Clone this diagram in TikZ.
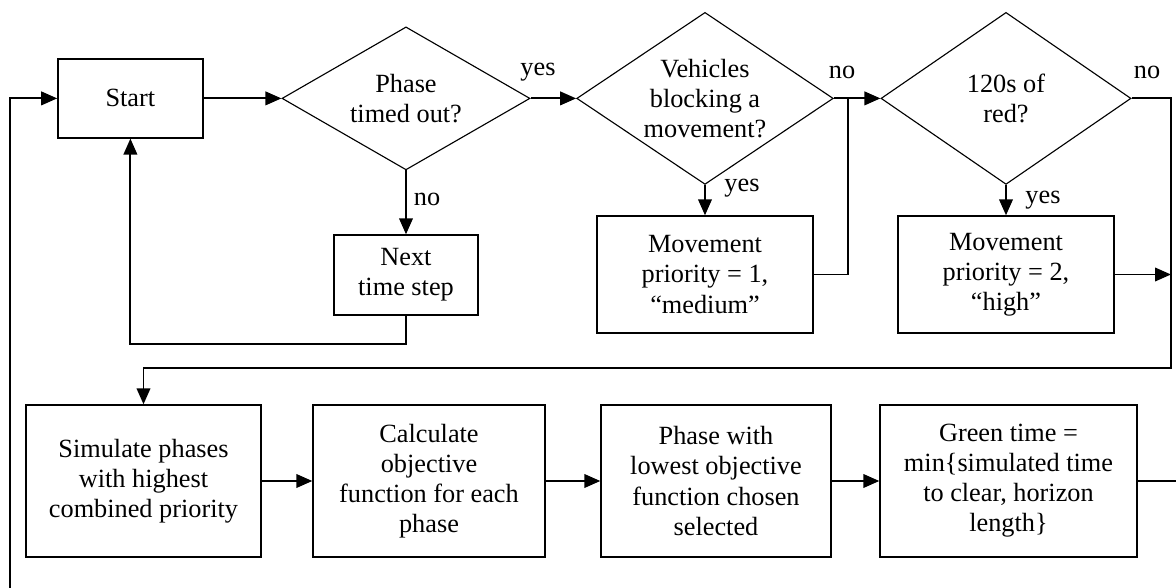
\documentclass[tikz,border=0pt]{standalone}
\usepackage{fontspec}
\setmainfont{Liberation Serif}
\usetikzlibrary{shapes.geometric,arrows.meta}

\begin{document}
\begin{tikzpicture}[>={Triangle[length=0.4cm,width=0.34cm]},
    every node/.style={font=\fontsize{18.7}{21.4}\selectfont},
    box/.style={draw, line width=1pt, align=center, inner sep=0pt},
    decision/.style={draw, diamond, aspect=1.7, line width=0.8pt, align=center,
        inner sep=0pt, minimum width=6.25cm, minimum height=4.3cm},
    flow/.style={line width=1.4pt}]
    \useasboundingbox (0,0) rectangle (29.4,-14.7);

    % top row
    \node[box, minimum width=3.625cm, minimum height=1.975cm] (start) at (3.26,-2.46) {Start};
    \node[decision, minimum width=6.2cm, minimum height=3.575cm] (timeout) at (10.15,-2.46) {Phase\\timed out?};
    \node[decision] (blocking) at (17.625,-2.46) {Vehicles\\blocking a\\movement?};
    \node[decision] (redtime) at (25.15,-2.46) {120s of\\red?};

    \node[box, minimum width=3.6cm, minimum height=2cm] (nextstep) at (10.15,-6.875) {Next\\time step};
    \node[box, minimum width=5.4cm, minimum height=2.925cm] (medium) at (17.625,-6.8625) {Movement\\priority = 1,\\``medium''};
    \node[box, minimum width=5.4cm, minimum height=2.925cm] (high) at (25.15,-6.8625) {Movement\\priority = 2,\\``high''};

    % bottom row
    \node[box, minimum width=5.875cm, minimum height=3.8cm] (simulate) at (3.5875,-12.025) {Simulate phases\\with highest\\combined priority};
    \node[box, minimum width=5.8cm, minimum height=3.8cm] (objective) at (10.725,-12.025) {Calculate\\objective\\function for each\\phase};
    \node[box, minimum width=5.75cm, minimum height=3.8cm] (lowest) at (17.9,-12.025) {Phase with\\lowest objective\\function chosen\\selected};
    \node[box, minimum width=6.425cm, minimum height=3.8cm] (green) at (25.2125,-12.025) {Green time =\\min\{simulated time\\to clear, horizon\\length\}};

    \coordinate (loopin) at (0.25,-14.7);
    \coordinate (junction) at (21.2,-2.46);
    \coordinate (rightrail) at (29.275,-2.46);
    \coordinate (railbottom) at (29.275,-9.2);
    \coordinate (greenout) at (29.4,-12.025);

    % connectors
    \draw[flow, ->] (loopin) |- (start.west);
    \draw[flow, ->] (start) -- (timeout);
    \draw[flow, ->] (timeout) -- (blocking);
    \draw[flow, ->] (blocking) -- (redtime);
    \draw[flow, ->] (timeout) -- (nextstep);
    \draw[flow, ->] (nextstep.south) -- ++(0,-0.7) -| (start.south);
    \draw[flow, ->] (blocking) -- (medium);
    \draw[line width=1pt] (medium.east) -| (junction);
    \draw[flow, ->] (redtime) -- (high);
    \draw[flow, ->] (redtime.east) -- (rightrail) -- (railbottom) -| (simulate.north);
    \draw[flow, ->] (high.east) -- (rightrail |- high.east);
    \draw[flow, ->] (simulate) -- (objective);
    \draw[flow, ->] (objective) -- (lowest);
    \draw[flow, ->] (lowest) -- (green);
    \draw[flow] (green) -- (greenout);

    % labels
    \node (l1) at (13.45,-1.8) {yes};
    \node (l2) at (10.675,-4.975) {no};
    \node (l3) at (21.05,-1.8) {no};
    \node (l4) at (18.55,-4.7) {yes};
    \node (l5) at (28.675,-1.8) {no};
    \node (l6) at (26.075,-5.0) {yes};
\end{tikzpicture}
\end{document}
